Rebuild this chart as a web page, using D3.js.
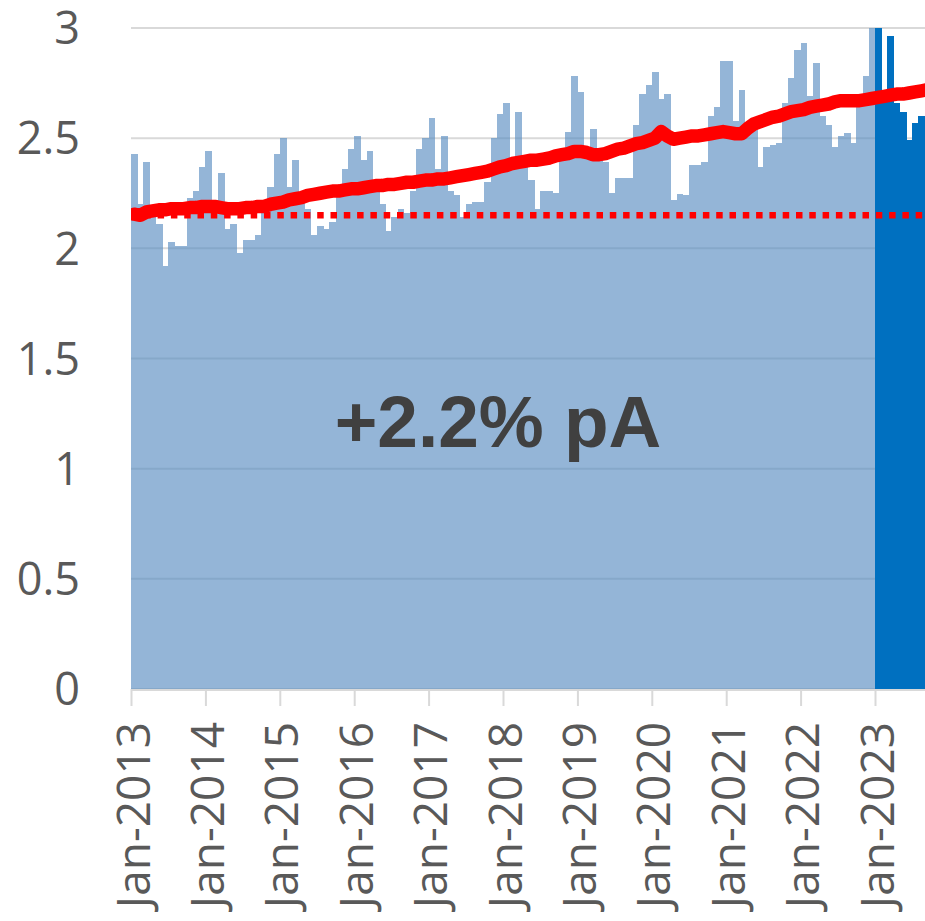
<!DOCTYPE html>
<html>
<head>
<meta charset="utf-8">
<script src="https://cdn.jsdelivr.net/npm/d3@7"></script>
<style>
  html, body { margin: 0; padding: 0; background: #ffffff; }
  svg { display: block; }
</style>
</head>
<body>
<svg id="chart" width="925" height="921"></svg>
<script>
// Monthly values, Jan 2013 – Dec 2022 (historic, light bars)
const historicValues = [
  2.43, 2.20, 2.39, 2.15, 2.11, 1.92, 2.03, 2.01, 2.01, 2.23, 2.26, 2.37,
  2.44, 2.22, 2.34, 2.09, 2.11, 1.98, 2.04, 2.04, 2.06, 2.22, 2.28, 2.43,
  2.50, 2.28, 2.40, 2.22, 2.18, 2.06, 2.10, 2.09, 2.12, 2.28, 2.36, 2.45,
  2.51, 2.40, 2.44, 2.27, 2.20, 2.08, 2.14, 2.18, 2.16, 2.26, 2.45, 2.50,
  2.59, 2.36, 2.51, 2.26, 2.24, 2.14, 2.20, 2.21, 2.21, 2.30, 2.50, 2.61,
  2.66, 2.40, 2.62, 2.37, 2.31, 2.18, 2.26, 2.26, 2.25, 2.45, 2.53, 2.78,
  2.71, 2.44, 2.54, 2.42, 2.39, 2.25, 2.32, 2.32, 2.32, 2.56, 2.70, 2.74,
  2.80, 2.68, 2.70, 2.22, 2.245, 2.24, 2.38, 2.38, 2.39, 2.60, 2.64, 2.85,
  2.85, 2.58, 2.72, 2.56, 2.55, 2.37, 2.46, 2.47, 2.48, 2.66, 2.775, 2.90,
  2.93, 2.69, 2.84, 2.60, 2.56, 2.46, 2.51, 2.525, 2.48, 2.67, 2.78, 3.00
];
// Monthly values from Jan 2023 (current year, dark bars)
const currentValues = [3.00, 2.67, 2.965, 2.66, 2.62, 2.49, 2.57, 2.60, 2.54];

// 12-month rolling average, one value per month from Jan 2013
const rollingAverage = [
  2.155, 2.15, 2.165, 2.17, 2.175, 2.175, 2.18, 2.18, 2.18, 2.185, 2.185, 2.19,
  2.19, 2.19, 2.185, 2.18, 2.18, 2.18, 2.185, 2.185, 2.19, 2.19, 2.20, 2.205,
  2.21, 2.22, 2.225, 2.23, 2.24, 2.245, 2.25, 2.255, 2.26, 2.26, 2.265, 2.27,
  2.27, 2.275, 2.28, 2.285, 2.285, 2.29, 2.29, 2.295, 2.30, 2.30, 2.305, 2.31,
  2.31, 2.315, 2.315, 2.32, 2.325, 2.33, 2.335, 2.34, 2.345, 2.35, 2.36, 2.37,
  2.375, 2.385, 2.39, 2.395, 2.40, 2.40, 2.405, 2.41, 2.42, 2.425, 2.43, 2.44,
  2.44, 2.435, 2.425, 2.425, 2.43, 2.44, 2.45, 2.455, 2.465, 2.475, 2.48, 2.49,
  2.50, 2.53, 2.51, 2.495, 2.50, 2.505, 2.51, 2.51, 2.515, 2.52, 2.525, 2.53,
  2.525, 2.52, 2.52, 2.545, 2.565, 2.575, 2.585, 2.595, 2.60, 2.61, 2.62, 2.625,
  2.63, 2.64, 2.645, 2.65, 2.655, 2.665, 2.67, 2.67, 2.67, 2.67, 2.675, 2.68,
  2.685, 2.69, 2.695, 2.70, 2.70, 2.705, 2.71, 2.715, 2.72
];

// Reference level at the start of the period
const baseline = 2.15;

const yTicks = [0, 0.5, 1, 1.5, 2, 2.5, 3];
const yTickLabels = ["0", "0.5", "1", "1.5", "2", "2.5", "3"];
const xTickLabels = ["Jan-2013", "Jan-2014", "Jan-2015", "Jan-2016", "Jan-2017",
  "Jan-2018", "Jan-2019", "Jan-2020", "Jan-2021", "Jan-2022", "Jan-2023"];
const annotation = "+2.2% pA";

const allValues = historicValues.concat(currentValues);
const monthIdx = d3.range(allValues.length);

const svg = d3.select("#chart");
const plot = { left: 131, top: 28, bottom: 689, step: 6.2 };

const x = d3.scaleBand()
  .domain(monthIdx)
  .range([plot.left, plot.left + plot.step * allValues.length])
  .padding(0);

const y = d3.scaleLinear().domain([0, 3]).range([plot.bottom, plot.top]);

// horizontal gridlines
svg.append("g")
  .selectAll("line")
  .data(yTicks)
  .join("line")
  .attr("x1", plot.left)
  .attr("x2", 925)
  .attr("y1", d => y(d))
  .attr("y2", d => y(d))
  .attr("stroke", "#d9d9d9")
  .attr("stroke-width", 2);

// historic bars; the group is composited once at reduced opacity,
// so the gridlines show faintly through without seams between bars
svg.append("g")
  .attr("opacity", 0.65)
  .attr("shape-rendering", "crispEdges")
  .selectAll("rect")
  .data(historicValues)
  .join("rect")
  .attr("x", (d, i) => x(i))
  .attr("width", x.bandwidth() + 0.5)
  .attr("y", d => y(d))
  .attr("height", d => y(0) - y(d))
  .attr("fill", "#5b8fc2");

// current-year bars
const offset = historicValues.length;
svg.append("g")
  .attr("shape-rendering", "crispEdges")
  .selectAll("rect")
  .data(currentValues)
  .join("rect")
  .attr("x", (d, i) => x(i + offset))
  .attr("width", x.bandwidth() + 0.5)
  .attr("y", d => y(d))
  .attr("height", d => y(0) - y(d))
  .attr("fill", "#0070c0");

// x axis line and January ticks
svg.append("line")
  .attr("x1", plot.left).attr("x2", 925)
  .attr("y1", plot.bottom + 1).attr("y2", plot.bottom + 1)
  .attr("stroke", "#d9d9d9").attr("stroke-width", 2);

const janIdx = xTickLabels.map((d, i) => i * 12);
svg.append("g")
  .selectAll("line")
  .data(janIdx)
  .join("line")
  .attr("x1", d => x(d) + 0.5)
  .attr("x2", d => x(d) + 0.5)
  .attr("y1", plot.bottom)
  .attr("y2", plot.bottom + 17)
  .attr("stroke", "#d9d9d9")
  .attr("stroke-width", 2);

// x tick labels, rotated
svg.append("g")
  .selectAll("text")
  .data(xTickLabels)
  .join("text")
  .attr("transform", (d, i) => `translate(${x(janIdx[i]) + 2},${plot.bottom + 33}) rotate(-90)`)
  .attr("text-anchor", "end")
  .attr("dy", "0.36em")
  .attr("font-family", "'Open Sans', sans-serif")
  .attr("font-size", 46)
  .attr("fill", "#595959")
  .text(d => d);

// y tick labels
svg.append("g")
  .selectAll("text")
  .data(yTicks)
  .join("text")
  .attr("x", 80)
  .attr("y", d => y(d))
  .attr("dy", "0.36em")
  .attr("text-anchor", "end")
  .attr("font-family", "'Open Sans', sans-serif")
  .attr("font-size", 45)
  .attr("fill", "#595959")
  .text((d, i) => yTickLabels[i]);

// dotted baseline
svg.append("line")
  .attr("x1", plot.left)
  .attr("x2", 925)
  .attr("y1", y(baseline))
  .attr("y2", y(baseline))
  .attr("stroke", "#ff0000")
  .attr("stroke-width", 6.5)
  .attr("stroke-dasharray", "6.5,6.8");

// rolling-average line
const line = d3.line()
  .x((d, i) => x(i) + x.bandwidth() / 2)
  .y(d => y(d))
  .curve(d3.curveLinear);

svg.append("defs").append("clipPath").attr("id", "plotClip")
  .append("rect").attr("x", plot.left).attr("y", 0).attr("width", 925 - plot.left).attr("height", plot.bottom);

svg.append("path")
  .datum(rollingAverage)
  .attr("clip-path", "url(#plotClip)")
  .attr("d", line)
  .attr("fill", "none")
  .attr("stroke", "#ff0000")
  .attr("stroke-width", 13.5)
  .attr("stroke-linejoin", "round")
  .attr("stroke-linecap", "round");

// growth annotation
svg.append("text")
  .attr("x", 498)
  .attr("y", 447)
  .attr("text-anchor", "middle")
  .attr("font-family", "'Liberation Sans', Arial, sans-serif")
  .attr("font-weight", "bold")
  .attr("font-size", 73)
  .attr("fill", "#404040")
  .text(annotation);
</script>
</body>
</html>
